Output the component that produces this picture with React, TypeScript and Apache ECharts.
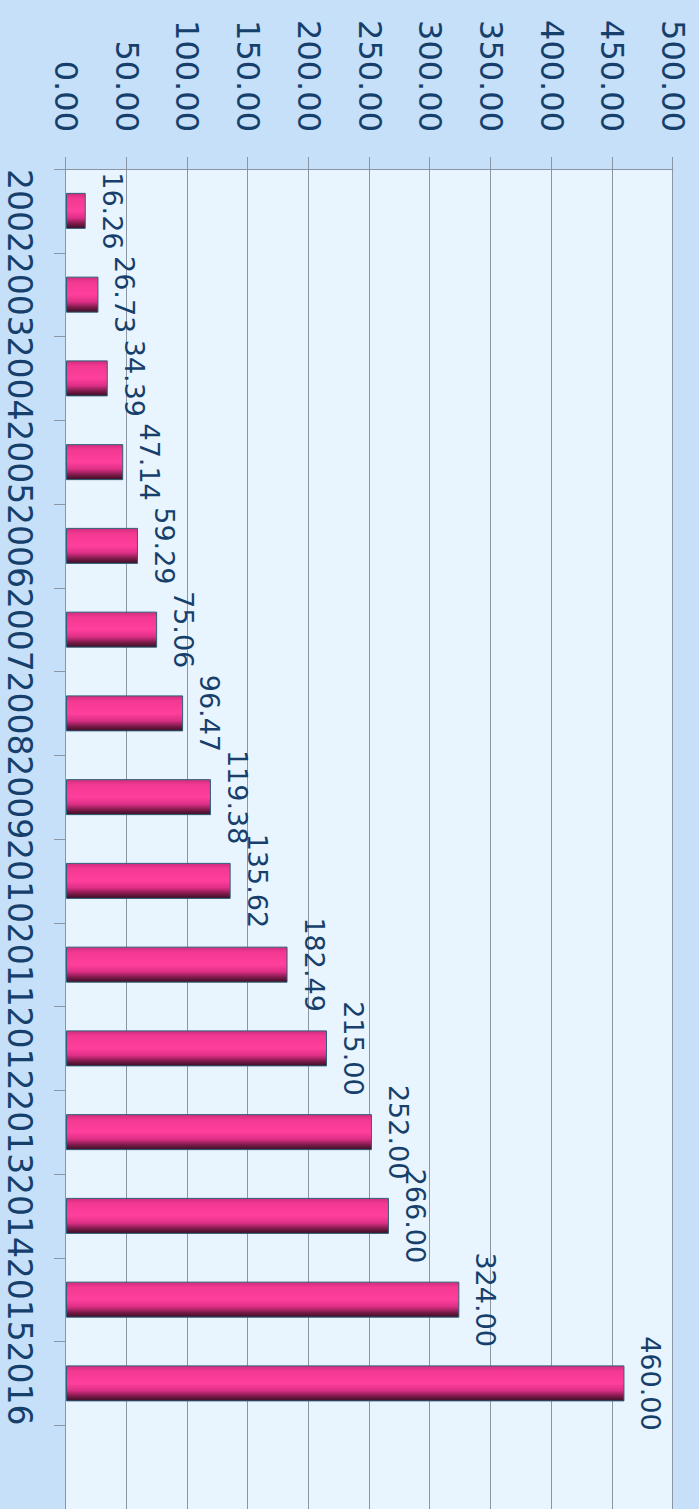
import React, { useEffect, useRef } from "react";
import * as echarts from "echarts";

const years = ["2002", "2003", "2004", "2005", "2006", "2007", "2008", "2009", "2010", "2011", "2012", "2013", "2014", "2015", "2016"];
const values = [16.26, 26.73, 34.39, 47.14, 59.29, 75.06, 96.47, 119.38, 135.62, 182.49, 215.0, 252.0, 266.0, 324.0, 460.0];
const valueMin = 0;
const valueMax = 500;
const valueStep = 50;

const FONT = "DejaVu Sans";
const TEXT = "#163f6c";
const GRID = "#8a96a4";

export default function App() {
  const ref = useRef<HTMLDivElement>(null);
  useEffect(() => {
    if (!ref.current) return;
    const chart = echarts.init(ref.current, null, { renderer: "svg" });
    chart.setOption({
      animation: false,
      backgroundColor: "#c5e0f8",
      grid: {
        left: 169,
        top: 26,
        width: 1346,
        height: 607,
        show: true,
        backgroundColor: "#e9f5fe",
        borderWidth: 0,
        containLabel: false,
      },
      xAxis: {
        type: "category",
        data: [...years, ""],
        axisLine: { show: true, lineStyle: { color: GRID, width: 1 } },
        axisTick: { show: true, length: 12, lineStyle: { color: GRID } },
        axisLabel: { interval: 0, fontSize: 33, fontFamily: FONT, color: TEXT, margin: 30 },
        splitLine: { show: false },
      },
      yAxis: {
        type: "value",
        min: valueMin,
        max: valueMax,
        interval: valueStep,
        axisLine: { show: true, lineStyle: { color: GRID, width: 1 } },
        axisTick: { show: true, length: 12, lineStyle: { color: GRID } },
        axisLabel: {
          fontSize: 32,
          fontFamily: FONT,
          color: TEXT,
          margin: 37,
          formatter: (v: number) => v.toFixed(2),
        },
        splitLine: { show: true, lineStyle: { color: GRID, width: 1 } },
      },
      series: [
        {
          type: "bar",
          data: values,
          barWidth: 36,
          itemStyle: {
            color: new echarts.graphic.LinearGradient(0, 0, 1, 0, [
              { offset: 0, color: "#d02c7e" },
              { offset: 0.15, color: "#f33992" },
              { offset: 0.5, color: "#ff3f9c" },
              { offset: 0.7, color: "#de2f86" },
              { offset: 0.87, color: "#7a1a48" },
              { offset: 1, color: "#3a0e24" },
            ]),
            borderColor: "#2f5f78",
            borderWidth: 1,
          },
          label: {
            show: true,
            position: "top",
            distance: 13,
            fontSize: 27,
            fontFamily: FONT,
            color: TEXT,
            formatter: (p: any) => Number(p.value).toFixed(2),
          },
        },
      ],
    });
    return () => chart.dispose();
  }, []);
  return (
    <div
      style={{
        position: "fixed",
        left: 0,
        top: 0,
        width: 699,
        height: 1509,
        overflow: "hidden",
        background: "#c5e0f8",
      }}
    >
      <div
        ref={ref}
        style={{
          position: "absolute",
          left: 0,
          top: 0,
          width: 1509,
          height: 699,
          transformOrigin: "0 0",
          transform: "translate(699px, 0px) rotate(90deg)",
        }}
      />
    </div>
  );
}
